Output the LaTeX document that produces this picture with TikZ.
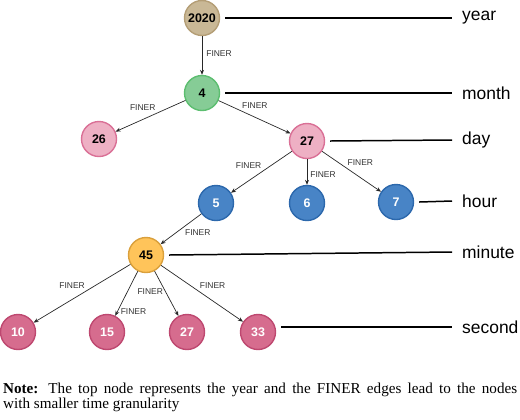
\documentclass[tikz,border=0pt]{standalone}
\usepackage{fontspec}
\setmainfont{Liberation Serif}
\newfontfamily\arialfont{Liberation Sans}
\usepackage{xcolor}
\usepackage{tikz}
\usetikzlibrary{positioning,calc,arrows.meta}
\definecolor{yearfill}{RGB}{201,184,150}
\definecolor{yeardraw}{RGB}{180,158,118}
\definecolor{monthfill}{RGB}{134,204,150}
\definecolor{monthdraw}{RGB}{92,190,112}
\definecolor{dayfill}{RGB}{238,176,196}
\definecolor{daydraw}{RGB}{218,112,150}
\definecolor{hourfill}{RGB}{72,132,198}
\definecolor{hourdraw}{RGB}{44,104,172}
\definecolor{minfill}{RGB}{255,196,90}
\definecolor{mindraw}{RGB}{218,160,60}
\definecolor{secfill}{RGB}{214,108,142}
\definecolor{secdraw}{RGB}{190,72,112}
\definecolor{edgegray}{RGB}{40,40,40}
\begin{document}
\begin{tikzpicture}[x=1bp, y=-1bp, timenode/.style={circle, draw, line width=1.4pt, minimum size=35bp, inner sep=0pt, font=\arialfont\fontsize{12.5}{14}\selectfont\bfseries}, darktext/.style={text=black}, lighttext/.style={text=white}, arrow/.style={-{Stealth[length=5pt,width=4pt]}, draw=edgegray, line width=0.7pt}, finer/.style={font=\arialfont\fontsize{8.5}{10}\selectfont, text=black!80, inner sep=1pt}, level/.style={draw=black, line width=1.5pt}, levelname/.style={anchor=west, font=\arialfont\fontsize{17.5}{20}\selectfont, inner sep=0pt}]
\useasboundingbox (0,0) rectangle (520,419);
% tree
\node[timenode, fill=yearfill, draw=yeardraw, darktext] (y2020) at (202,18) {2020};
\node[timenode, fill=monthfill, draw=monthdraw, darktext] (m4) at (202,93) {4};
\node[timenode, fill=dayfill, draw=daydraw, darktext] (d26) at (99,139) {26};
\node[timenode, fill=dayfill, draw=daydraw, darktext] (d27) at (307,141) {27};
\node[timenode, fill=hourfill, draw=hourdraw, lighttext] (h5) at (216,203) {5};
\node[timenode, fill=hourfill, draw=hourdraw, lighttext] (h6) at (307,203) {6};
\node[timenode, fill=hourfill, draw=hourdraw, lighttext] (h7) at (396,202) {7};
\node[timenode, fill=minfill, draw=mindraw, darktext] (n45) at (146,255) {45};
\node[timenode, fill=secfill, draw=secdraw, lighttext] (s10) at (18,332) {10};
\node[timenode, fill=secfill, draw=secdraw, lighttext] (s15) at (107,332) {15};
\node[timenode, fill=secfill, draw=secdraw, lighttext] (s27) at (187,332) {27};
\node[timenode, fill=secfill, draw=secdraw, lighttext] (s33) at (258,332) {33};
% edges
\draw[arrow] (y2020) -- (m4) node[finer, pos=0.45, right=3pt] {FINER};
\draw[arrow] (m4) -- (d26) node[finer, pos=0.4, above left=1pt] {FINER};
\draw[arrow] (m4) -- (d27) node[finer, pos=0.3, above right=1pt] {FINER};
\draw[arrow] (d27) -- (h5) node[finer, pos=0.47, above left=1pt] {FINER};
\draw[arrow] (d27) -- (h6) node[finer, pos=0.6, right=2pt] {FINER};
\draw[arrow] (d27) -- (h7) node[finer, pos=0.4, above right=1pt] {FINER};
\draw[arrow] (h5) -- (n45) node[finer, pos=0.45, below right=1pt] {FINER};
\draw[arrow] (n45) -- (s10) node[finer, pos=0.45, above left=1pt] {FINER};
\draw[arrow] (n45) -- (s15) node[finer, pos=0.9, right=2pt] {FINER};
\draw[arrow] (n45) -- (s27) node[finer, pos=0.45, left=1pt] {FINER};
\draw[arrow] (n45) -- (s33) node[finer, pos=0.45, above right=1pt] {FINER};
% levels
\node[levelname] (lyear) at (462,18) {year};
\node[levelname] (lmonth) at (462,93) {month};
\node[levelname] (lday) at (462,140) {day};
\node[levelname] (lhour) at (462,201) {hour};
\node[levelname] (lminute) at (462,252) {minute};
\node[levelname] (lsecond) at (462,327) {second};
\draw[level] ([xshift=5bp]y2020.east) -- ([xshift=-10bp]lyear.west);
\draw[level] ([xshift=5bp]m4.east) -- ([xshift=-10bp]lmonth.west);
\draw[level] ([xshift=5bp]d27.east) -- ([xshift=-10bp]lday.west);
\draw[level] ([xshift=5bp]h7.east) -- ([xshift=-10bp]lhour.west);
\draw[level] ([xshift=5bp]n45.east) -- ([xshift=-10bp]lminute.west);
\draw[level] ([xshift=5bp]s33.east |- lsecond.west) -- ([xshift=-10bp]lsecond.west);
% note
\node[anchor=base west, inner sep=0pt, text width=514bp, align=justify, font=\fontsize{15.2}{16}\selectfont] (note) at (3,393) {\textbf{Note:} The top node represents the year and the FINER edges lead to the nodes\linebreak with smaller time granularity};
\end{tikzpicture}
\end{document}
